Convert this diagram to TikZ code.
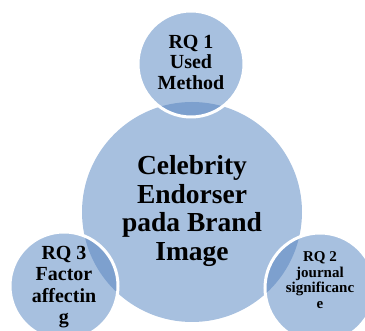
\documentclass[tikz,border=0pt]{standalone}
\usepackage{fontspec}
\setmainfont{Liberation Serif}
\definecolor{lightb}{HTML}{A7C0DF}
\definecolor{darkb}{HTML}{7DA0CE}
\begin{document}
\begin{tikzpicture}[x=1pt,y=1pt,
  txt/.style={align=center,font=\bfseries,text=black,inner sep=0pt},
  ring/.style={draw=white,line width=3pt}]
\useasboundingbox (0,0) rectangle (365,331);
\clip (0,0) rectangle (365,331);
% big circle
\fill[lightb] (192,119) circle (110);
% small circles
\fill[lightb] (191,267) circle (53);
\fill[lightb] (64,45) circle (54);
\fill[lightb] (320,43) circle (55);
\begin{scope}
  \clip (192,119) circle (110);
  \fill[darkb] (191,267) circle (53);
  \fill[darkb] (64,45) circle (54);
  \fill[darkb] (320,43) circle (55);
\end{scope}
\draw[ring] (191,267) circle (53);
\draw[ring] (64,45) circle (54);
\draw[ring] (320,43) circle (55);
% texts
\node[txt,font=\bfseries\fontsize{27.5}{28.5}\selectfont] (c) at (192,120) {Celebrity\\Endorser\\pada Brand\\Image};
\node[txt,font=\bfseries\fontsize{20}{20.5}\selectfont] (t) at (191,269) {RQ 1\\Used\\Method};
\node[txt,font=\bfseries\fontsize{20}{21.5}\selectfont] (l) at (64,44) {RQ 3\\Factor\\affectin\\g};
\node[txt,font=\bfseries\fontsize{15}{15.5}\selectfont] (r) at (320,51) {RQ 2\\journal\\significanc\\e};
\end{tikzpicture}
\end{document}
